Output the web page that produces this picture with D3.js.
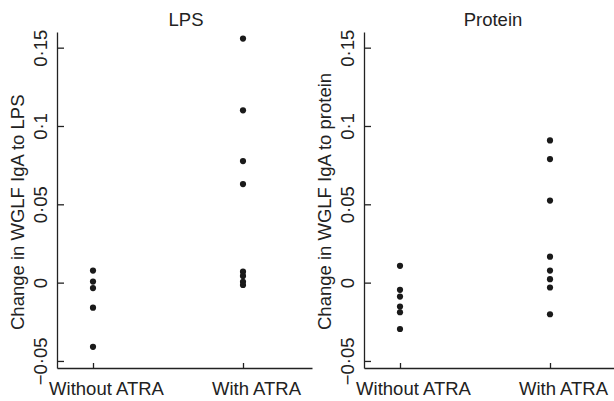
<!DOCTYPE html>
<meta charset="utf-8">
<style>
  body { margin: 0; background: #fff; }
  text { font-family: "Liberation Sans", Arial, sans-serif; fill: #222; }
</style>
<body>
</body>
<script src="https://d3js.org/d3.v7.min.js"></script>
<script>

// categories and tick labels
var groups = ["Without ATRA", "With ATRA"];
var yTicks = [-0.05, 0, 0.05, 0.1, 0.15];

// change in WGLF IgA
var lpsWithout = [0.0077, 0.0007, -0.0035, -0.016, -0.041];
var lpsWith = [0.1558, 0.110, 0.0776, 0.0629, 0.007, 0.0043, 0.0005, -0.0015];
var proteinWithout = [0.0107, -0.0046, -0.0089, -0.0153, -0.0189, -0.0296];
var proteinWith = [0.0908, 0.0789, 0.0524, 0.0166, 0.0077, 0.0022, -0.0031, -0.0202];

var panels = [
  {title: "LPS", label: "Change in WGLF IgA to LPS", left: 57, series: [lpsWithout, lpsWith]},
  {title: "Protein", label: "Change in WGLF IgA to protein", left: 364, series: [proteinWithout, proteinWith]}
];

var width = 614, height = 401;
var marginTop = 32, plotH = 336, plotW = 255;
var fontSize = 18.5;

var svg = d3.select("body").append("svg")
  .attr("width", width)
  .attr("height", height);

var y = d3.scaleLinear()
  .domain([-0.0545, 0.160])
  .range([plotH, 0]);

// x position of the groups: 1 and 2
var x = d3.scaleLinear()
  .domain([0.76, 2.46])
  .range([0, plotW]);

function fmt(d) {
  if (d == 0) return "0";
  return (d < 0 ? "\u2212" : "") + String(Math.abs(d)).replace(".", "\u00b7");
}

panels.forEach(function(p) {
  var g = svg.append("g")
    .attr("transform", "translate(" + p.left + "," + marginTop + ")");

  // y axis, ticks pointing inward
  var ya = g.append("g")
    .call(d3.axisLeft(y).tickValues(yTicks).tickSizeInner(-7).tickSizeOuter(0).tickFormat(fmt));
  ya.selectAll("path, line").attr("stroke", "#222").attr("stroke-width", 1.3);
  ya.selectAll("text")
    .attr("x", 0)
    .attr("y", -10)
    .attr("dy", 0)
    .attr("transform", "rotate(-90)")
    .attr("text-anchor", "middle")
    .attr("font-size", fontSize)
    .attr("font-family", null);

  // x axis, ticks pointing up
  var xa = g.append("g")
    .attr("transform", "translate(0," + plotH + ")")
    .call(d3.axisBottom(x).tickValues([1, 2]).tickSizeInner(-5).tickSizeOuter(0)
      .tickFormat(function(d) { return groups[d - 1]; }));
  xa.selectAll("path, line").attr("stroke", "#222").attr("stroke-width", 1.3);
  xa.selectAll("text")
    .attr("y", 27)
    .attr("dy", 0)
    .attr("dx", 13)
    .attr("font-size", fontSize)
    .attr("font-family", null);

  // title
  g.append("text")
    .attr("x", 129)
    .attr("y", 26 - marginTop)
    .attr("text-anchor", "middle")
    .attr("font-size", fontSize)
    .text(p.title);

  // y axis label
  g.append("text")
    .attr("transform", "translate(-33," + (330 - marginTop) + ")rotate(-90)")
    .attr("text-anchor", "start")
    .attr("font-size", fontSize)
    .text(p.label);

  // points
  p.series.forEach(function(vals, i) {
    g.selectAll(null)
      .data(vals)
      .enter()
      .append("circle")
      .attr("cx", x(i + 1))
      .attr("cy", function(d) { return y(d); })
      .attr("r", 3.1)
      .attr("fill", "#1a1a1a");
  });
});

</script>
